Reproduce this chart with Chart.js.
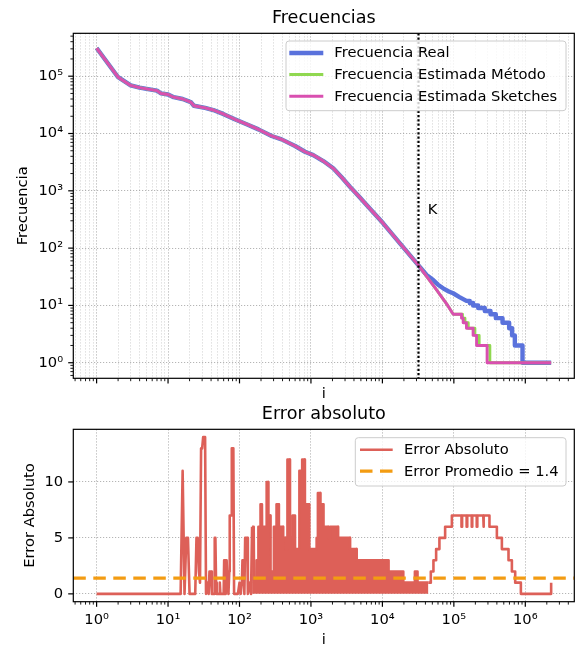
<!DOCTYPE html>
<html>
<head>
<meta charset="utf-8">
<title>Frecuencias / Error absoluto</title>
<script src="https://cdn.jsdelivr.net/npm/chart.js@4/dist/chart.umd.min.js"></script>
<style>
  html, body { margin: 0; padding: 0; background: #fff; }
  body { width: 579px; height: 649px; position: relative; overflow: hidden; }
  canvas { position: absolute; left: 0; }
  #chart-freq { top: 0; }
  #chart-err  { top: 400px; }
</style>
</head>
<body>
<canvas id="chart-freq" width="579" height="410"></canvas>
<canvas id="chart-err" width="579" height="249"></canvas>
<script>
/* ── Data: [rank i, value] ── */
const FREQ_HEAD = [
  [1, 310000], [2, 96000], [3, 69000], [4, 63000], [5, 60000], [7, 56000], [8, 50000],
  [10, 48000], [12, 43000], [16, 40000], [20, 36000], [21, 35000], [23, 30500], [33, 28000],
  [43, 25700], [59, 22000], [86, 17700], [133, 14100], [184, 11800], [282, 9060], [388, 7900],
  [600, 6050], [825, 4800], [1077, 4200], [1490, 3300], [2050, 2470], [2690, 1720],
  [3510, 1180], [4600, 822], [6010, 565], [10250, 271], [17600, 121], [32000, 50]
];
const FREQ_REAL_TAIL = [
  [41500, 34], [51400, 27.7], [60000, 23], [70800, 19.9], [85000, 17.5], [97700, 16.3],
  [120000, 14], [150000, 12], [167000, 12], [167000, 11], [186000, 11], [186000, 10],
  [219000, 10], [219000, 9], [271000, 9], [271000, 8], [326000, 8], [326000, 7],
  [387000, 7], [387000, 6], [480000, 6], [480000, 5], [594000, 5], [594000, 4],
  [654000, 4], [654000, 3], [714000, 3], [714000, 2], [914000, 2], [914000, 1], [2300000, 1]
];
const FREQ_METODO_TAIL = [
  [55000, 20], [82000, 10], [98000, 7], [132000, 7], [132000, 6], [143000, 6], [143000, 5],
  [159000, 5], [159000, 4], [197000, 4], [197000, 3], [226000, 3], [226000, 2],
  [319000, 2], [319000, 1], [2300000, 1], [2300000, 0]
];
const FREQ_SKETCH_TAIL = [
  [55000, 20], [82000, 10], [98000, 7], [128000, 7], [128000, 6], [135000, 6], [135000, 5],
  [150000, 5], [150000, 4], [186000, 4], [186000, 3], [208000, 3], [208000, 2],
  [292000, 2], [292000, 1], [2300000, 1], [2300000, 0]
];
const K_RANK = 32000;
const K_TEXT_AT = [43000, 390];

const ERR_POINTS = [
  [1, 0], [15, 0], [16, 11], [17, 0], [18, 5], [19, 5], [20, 0], [24, 0], [25, 5], [26, 5],
  [27, 2], [28, 1], [29, 13], [30, 13], [31, 14], [33, 14], [34, 0], [36, 1], [37, 0],
  [38, 2], [40, 2], [41, 0], [44, 0], [45, 5], [46, 5], [47, 1], [48, 0], [52, 0], [53, 1],
  [54, 0], [60, 0], [61, 3], [62, 0], [63, 3], [64, 0], [66, 3], [67, 2], [70, 0], [72, 2],
  [73, 7], [77, 7], [78, 13], [82, 13], [84, 0], [95, 0], [100, 1], [104, 0], [108, 1],
  [110, 3], [115, 3], [117, 0], [120, 5], [128, 5], [131, 0], [140, 1], [145, 0], [150, 6],
  [158, 6], [160, 1], [173, 1], [174, 3], [183, 3], [184, 6], [196, 6], [197, 8], [206, 8],
  [207, 6], [239, 6], [240, 10], [253, 10], [254, 7], [271, 7], [272, 2], [302, 2], [303, 6],
  [329, 6], [330, 8], [355, 8], [356, 6], [408, 6], [409, 5], [440, 5], [441, 4], [468, 4],
  [469, 12], [508, 12], [509, 5], [553, 5], [554, 7], [598, 7], [599, 4], [688, 4], [689, 11],
  [753, 11], [754, 12], [822, 12], [823, 8], [948, 8], [949, 4], [1200, 4], [1201, 5],
  [1250, 5], [1251, 9], [1358, 9], [1359, 8], [1498, 8], [1499, 6], [1748, 6], [1749, 5],
  [1848, 5], [1849, 6], [2400, 6], [2401, 5], [3530, 5], [3531, 4], [4370, 4], [4371, 3],
  [12200, 3], [12201, 2], [19600, 2], [19601, 1], [28500, 1], [28501, 2], [31000, 2],
  [31001, 1], [44000, 1], [47600, 1], [47600, 2], [51800, 2], [51800, 3], [56500, 3],
  [56500, 4], [62800, 4], [62800, 5], [75500, 5], [75500, 6], [93800, 6], [93800, 7],
  [128000, 7], [128000, 6], [130500, 6], [130500, 7], [151000, 7], [151000, 6], [154000, 6],
  [154000, 7], [178000, 7], [178000, 6], [181000, 6], [181000, 7], [209000, 7], [209000, 6],
  [213000, 6], [213000, 7], [258000, 7], [258000, 6], [263000, 6], [263000, 7], [315000, 7],
  [315000, 6], [400000, 6], [400000, 5], [470000, 5], [470000, 4], [582000, 4], [582000, 3],
  [649000, 3], [649000, 2], [722000, 2], [722000, 1], [867000, 1], [867000, 0],
  [2300000, 0], [2300000, 1]
];
const ERR_MEAN = 1.4;
const ERR_DENSE_FROM = 150;     // dense part of the error trace, drawn solid
const ERR_DENSE_TO = 44000;

const X_LIMITS = [0.472, 4.85e6];
const FREQ_LIMITS = [0.535, 5.6e5];
const ERR_LIMITS = [-0.7, 14.7];
const ERR_TICKS = [0, 5, 10];

/* ── Look ── */
const BLUE = '#5a72dc', GREEN = '#90d850', PINK = '#d94fb0';
const RED = '#dd6058', ORANGE = '#f39c12';
const GRID_MAJOR = 'rgba(120,120,120,0.55)';
const GRID_MINOR = 'rgba(140,140,140,0.35)';
const NONE = 'rgba(0,0,0,0)';

Chart.defaults.font.family = 'DejaVu Sans';
Chart.defaults.font.size = 14.7;
Chart.defaults.color = '#000';

const SUP = { '-': '⁻', '0': '⁰', '1': '¹', '2': '²', '3': '³', '4': '⁴', '5': '⁵', '6': '⁶', '7': '⁷', '8': '⁸', '9': '⁹' };
const decadeLabel = v => '10' + String(Math.round(Math.log10(v))).split('').map(c => SUP[c]).join('');
const pts = arr => arr.map(([x, y]) => ({ x, y }));

/* log ticks 1..9 x 10^k plus the two axis ends */
function logTicks(min, max) {
  const ticks = [{ value: min, edge: true }];
  for (let e = Math.floor(Math.log10(min)); e <= Math.ceil(Math.log10(max)); e++) {
    for (let m = 1; m < 10; m++) {
      const v = m * Math.pow(10, e);
      if (v > min && v < max) ticks.push({ value: v, major: m === 1 });
    }
  }
  ticks.push({ value: max, edge: true });
  return ticks;
}

/* fixed axis box so the plot area lands where the picture has it */
function fixBox(size) {
  return scale => {
    if (scale.isHorizontal()) scale.height = size; else scale.width = size;
    scale.paddingLeft = scale.paddingRight = scale.paddingTop = scale.paddingBottom = 0;
  };
}

const majorLabel = (v, i, ticks) => (ticks[i].major && !ticks[i].edge) ? decadeLabel(v) : '';
const majorGrid = c => (c.tick && c.tick.major && !c.tick.edge) ? GRID_MAJOR : NONE;
const allGrid = c => (!c.tick || c.tick.edge) ? NONE : (c.tick.major ? GRID_MAJOR : GRID_MINOR);

/* ── Frame, tick marks, K marker, boxed legend ── */
const decor = {
  id: 'decor',
  afterDatasetsDraw(chart, args, opts) {
    const { ctx, chartArea: a } = chart;
    ctx.save();

    if (opts.kLine) {
      const x = chart.scales.x.getPixelForValue(opts.kLine.value);
      ctx.strokeStyle = '#000';
      ctx.lineWidth = 2.2;
      ctx.setLineDash([2.2, 2.1]);
      ctx.beginPath();
      ctx.moveTo(x, a.top);
      ctx.lineTo(x, a.bottom);
      ctx.stroke();
      ctx.setLineDash([]);
      ctx.fillStyle = '#000';
      ctx.font = '14.7px "DejaVu Sans"';
      ctx.textAlign = 'left';
      ctx.textBaseline = 'alphabetic';
      ctx.fillText(opts.kLine.text,
        chart.scales.x.getPixelForValue(opts.kLine.at[0]),
        chart.scales.y.getPixelForValue(opts.kLine.at[1]));
    }

    /* spines */
    ctx.strokeStyle = '#000';
    ctx.lineWidth = 1.2;
    ctx.strokeRect(a.left, a.top, a.width, a.height);

    /* tick marks, outward */
    for (const scale of Object.values(chart.scales)) {
      for (const t of scale.ticks) {
        if (t.edge) continue;
        const len = t.major ? 5.1 : 2.9;
        ctx.lineWidth = t.major ? 1.2 : 0.9;
        const p = scale.getPixelForValue(t.value);
        ctx.beginPath();
        if (scale.isHorizontal()) { ctx.moveTo(p, a.bottom); ctx.lineTo(p, a.bottom + len); }
        else { ctx.moveTo(a.left, p); ctx.lineTo(a.left - len, p); }
        ctx.stroke();
      }
    }

    /* legend */
    const L = opts.legend;
    if (L) {
      const [x0, y0, x1, y1] = L.box;
      ctx.beginPath();
      ctx.roundRect(x0, y0, x1 - x0, y1 - y0, 3);
      ctx.fillStyle = 'rgba(255,255,255,0.8)';
      ctx.fill();
      ctx.strokeStyle = '#cccccc';
      ctx.lineWidth = 1;
      ctx.stroke();
      ctx.font = '14.7px "DejaVu Sans"';
      ctx.textAlign = 'left';
      ctx.textBaseline = 'middle';
      chart.data.datasets.forEach((ds, k) => {
        const y = L.rows[k];
        ctx.strokeStyle = ds.borderColor;
        ctx.lineWidth = ds.borderWidth;
        ctx.setLineDash(ds.borderDash || []);
        ctx.beginPath();
        ctx.moveTo(L.line[0], y);
        ctx.lineTo(L.line[1], y);
        ctx.stroke();
        ctx.setLineDash([]);
        ctx.fillStyle = '#000';
        ctx.fillText(ds.label, L.textX, y + 0.5);
      });
    }
    ctx.restore();
  }
};

const COMMON = {
  responsive: false,
  animation: false,
  events: [],
  layout: { padding: { left: 0, right: 4.7, top: 0, bottom: 0 } }
};

/* ── Top: Frecuencias ── */
new Chart(document.getElementById('chart-freq'), {
  type: 'scatter',
  data: {
    datasets: [
      {
        label: 'Frecuencia Real',
        data: pts(FREQ_HEAD.concat(FREQ_REAL_TAIL)),
        borderColor: BLUE, borderWidth: 4.4, order: 3
      },
      {
        label: 'Frecuencia Estimada Método',
        data: pts(FREQ_HEAD.concat(FREQ_METODO_TAIL)),
        borderColor: GREEN, borderWidth: 2.9, order: 2
      },
      {
        label: 'Frecuencia Estimada Sketches',
        data: pts(FREQ_HEAD.concat(FREQ_SKETCH_TAIL)),
        borderColor: PINK, borderWidth: 2.9, order: 1
      }
    ].map(d => Object.assign(d, { showLine: true, pointRadius: 0, borderJoinStyle: 'round', clip: 0 }))
  },
  options: Object.assign({}, COMMON, {
    plugins: {
      legend: { display: false },
      tooltip: { enabled: false },
      title: {
        display: true, fullSize: false, text: 'Frecuencias', color: '#000',
        font: { size: 17.6, weight: 'normal' }, padding: { top: 7.7, bottom: 4.5 }
      },
      decor: {
        kLine: { value: K_RANK, text: 'K', at: K_TEXT_AT },
        legend: { box: [286, 41, 566, 110.7], rows: [53, 74.5, 96.3], line: [289.3, 323.3], textX: 334.3 }
      }
    },
    scales: {
      x: {
        type: 'logarithmic', min: X_LIMITS[0], max: X_LIMITS[1],
        afterBuildTicks: s => { s.ticks = logTicks(X_LIMITS[0], X_LIMITS[1]); },
        afterFit: fixBox(31.7),
        ticks: { autoSkip: false, maxRotation: 0, callback: () => '' },
        grid: { drawTicks: false, lineWidth: 1, color: allGrid },
        border: { display: false, dash: [1.2, 1.8] },
        title: { display: true, text: 'i', padding: { top: 0, bottom: 7.3 } }
      },
      y: {
        type: 'logarithmic', min: FREQ_LIMITS[0], max: FREQ_LIMITS[1],
        afterBuildTicks: s => { s.ticks = logTicks(FREQ_LIMITS[0], FREQ_LIMITS[1]); },
        afterFit: fixBox(73.3),
        ticks: { autoSkip: false, padding: 10.2, callback: majorLabel },
        grid: { drawTicks: false, lineWidth: 1, color: majorGrid },
        border: { display: false, dash: [1.2, 1.8] },
        title: { display: true, text: 'Frecuencia', padding: { top: 14.4, bottom: 0 } }
      }
    }
  }),
  plugins: [decor]
});

/* ── Bottom: Error absoluto ── */
new Chart(document.getElementById('chart-err'), {
  type: 'scatter',
  data: {
    datasets: [
      {
        label: 'Error Absoluto',
        data: pts(ERR_POINTS),
        showLine: true, pointRadius: 0, clip: 0,
        borderColor: RED, borderWidth: 2.6, backgroundColor: RED,
        borderJoinStyle: 'round',
        fill: 'origin',
        segment: {
          backgroundColor: c => (c.p0.parsed.x >= ERR_DENSE_FROM && c.p1.parsed.x <= ERR_DENSE_TO) ? RED : NONE
        },
        order: 2
      },
      {
        label: 'Error Promedio = ' + ERR_MEAN,
        data: pts([[X_LIMITS[0], ERR_MEAN], [X_LIMITS[1], ERR_MEAN]]),
        showLine: true, pointRadius: 0, clip: 0,
        borderColor: ORANGE, borderWidth: 3.3, borderDash: [12.5, 7.5],
        order: 1
      }
    ]
  },
  options: Object.assign({}, COMMON, {
    plugins: {
      legend: { display: false },
      tooltip: { enabled: false },
      title: {
        display: true, fullSize: false, text: 'Error absoluto', color: '#000',
        font: { size: 17.6, weight: 'normal' }, padding: { top: 3.7, bottom: 4.5 }
      },
      decor: {
        legend: { box: [355.3, 37.7, 566, 86], rows: [49.8, 71.2], line: [360, 392.7], textX: 404 }
      }
    },
    scales: {
      x: {
        type: 'logarithmic', min: X_LIMITS[0], max: X_LIMITS[1],
        afterBuildTicks: s => { s.ticks = logTicks(X_LIMITS[0], X_LIMITS[1]); },
        afterFit: fixBox(47.3),
        ticks: { autoSkip: false, maxRotation: 0, padding: 9.2, callback: majorLabel },
        grid: { drawTicks: false, lineWidth: 1, color: majorGrid },
        border: { display: false, dash: [1.2, 1.8] },
        title: { display: true, text: 'i', padding: { top: 0, bottom: 0 } }
      },
      y: {
        type: 'linear', min: ERR_LIMITS[0], max: ERR_LIMITS[1],
        afterBuildTicks: s => { s.ticks = ERR_TICKS.map(v => ({ value: v, major: true })); },
        afterFit: fixBox(73.3),
        ticks: { autoSkip: false, padding: 10.2, callback: v => String(v) },
        grid: { drawTicks: false, lineWidth: 1, color: majorGrid },
        border: { display: false, dash: [1.2, 1.8] },
        title: { display: true, text: 'Error Absoluto', padding: { top: 21.1, bottom: 0 } }
      }
    }
  }),
  plugins: [decor]
});
</script>
</body>
</html>
